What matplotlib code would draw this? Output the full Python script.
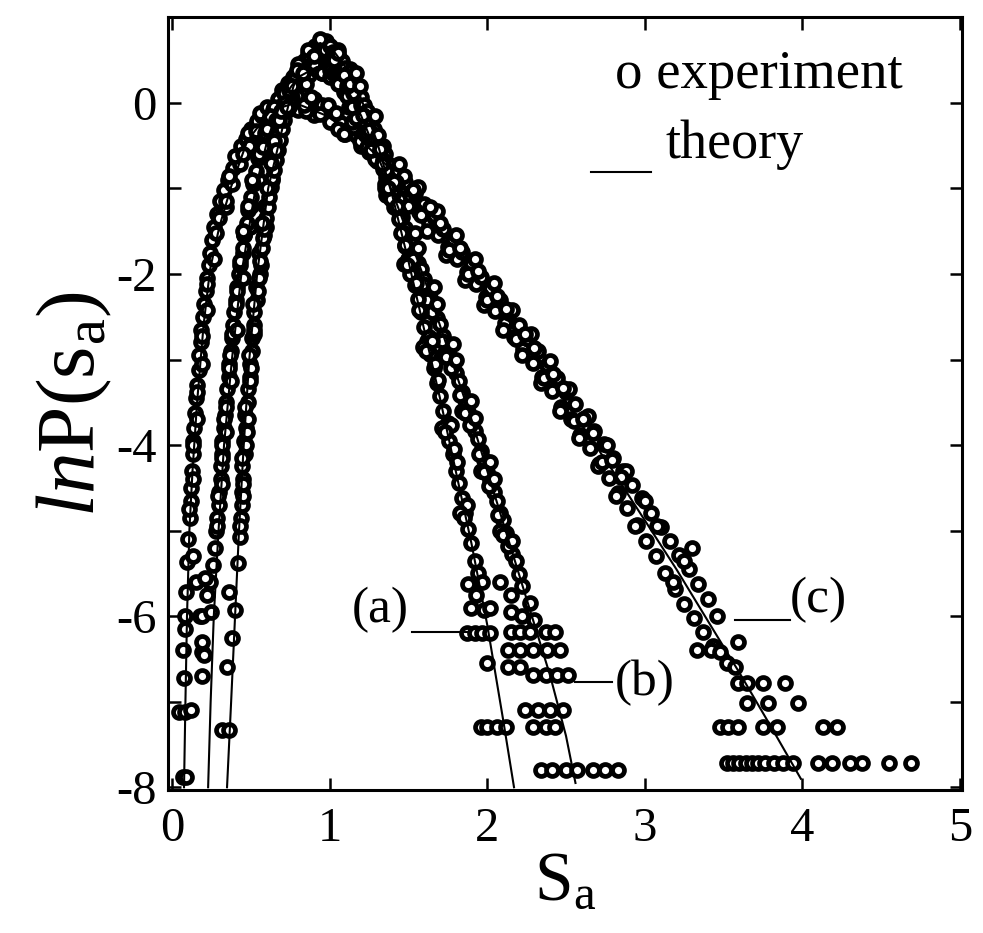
import matplotlib
matplotlib.use("Agg")
import matplotlib.pyplot as plt
from matplotlib.ticker import FixedLocator, FuncFormatter

plt.rcParams["font.family"] = ["Liberation Serif", "DejaVu Serif"]
plt.rcParams["mathtext.fontset"] = "custom"
plt.rcParams["mathtext.rm"] = "Liberation Serif"
plt.rcParams["mathtext.it"] = "Liberation Serif:italic"

# ---------------- theory curves, ln P(s_a) ----------------
theory_a_s = [0.349, 0.375, 0.40, 0.425, 0.455, 0.49, 0.54, 0.61, 0.70, 0.77, 0.85, 0.94,
              1.02, 1.10, 1.20, 1.30, 1.40, 1.50, 1.60, 1.70, 1.80, 1.90, 2.00, 2.10, 2.17]
theory_a_y = [-8.0, -7.0, -6.0, -5.0, -4.0, -3.0, -2.0, -1.0, -0.3, 0.19, 0.56, 0.70,
              0.62, 0.42, 0.05, -0.45, -1.10, -1.85, -2.65, -3.45, -4.30, -5.15, -6.10, -7.20, -8.0]

theory_b_s = [0.229, 0.245, 0.265, 0.295, 0.33, 0.38, 0.44, 0.53, 0.61, 0.70, 0.80, 0.92,
              1.00, 1.10, 1.20, 1.30, 1.40, 1.50, 1.60, 1.70, 1.80, 1.90, 2.00, 2.10, 2.20,
              2.30, 2.40, 2.50, 2.56]
theory_b_y = [-8.0, -7.0, -6.0, -5.0, -4.0, -3.0, -2.0, -1.0, -0.4, 0.05, 0.30, 0.42,
              0.38, 0.20, -0.15, -0.60, -1.05, -1.55, -2.05, -2.60, -3.15, -3.70, -4.30, -4.90, -5.50,
              -6.10, -6.70, -7.40, -7.95]

theory_c_s = [0.076, 0.085, 0.095, 0.11, 0.13, 0.159, 0.20, 0.241, 0.30, 0.375, 0.476, 0.62,
              0.78, 0.98, 1.19, 1.40, 1.60, 2.00, 2.40, 2.80, 3.20, 3.60, 3.80, 3.99]
theory_c_y = [-8.0, -7.0, -6.0, -5.0, -4.3, -3.5, -2.6, -1.95, -1.45, -0.98, -0.45, -0.10,
              0.0, -0.15, -0.42, -0.80, -1.25, -2.20, -3.22, -4.31, -5.45, -6.66, -7.29, -7.90]

# ---------------- experiment, series (a) ----------------
exp_a_s = [0.36, 0.35, 0.38, 0.40, 0.36, 0.42, 0.43,
           0.438, 0.446, 0.441, 0.45, 0.447, 0.462, 0.457, 0.472, 0.466, 0.483, 0.481, 0.495, 0.492,
           0.508, 0.505, 0.522, 0.519, 0.538, 0.535, 0.556,
           0.452, 0.47, 0.48, 0.50, 0.52, 0.545, 0.562, 0.585,
           0.432, 0.45, 0.443, 0.474, 0.466, 0.496, 0.487, 0.521, 0.515, 0.553, 0.55, 0.595, 0.59,
           0.636, 0.645,
           0.556, 0.572, 0.58, 0.585, 0.598, 0.606, 0.618, 0.628, 0.636, 0.648, 0.657, 0.672, 0.683,
           0.70, 0.712, 0.726, 0.742, 0.758, 0.776, 0.795, 0.817, 0.836, 0.862, 0.886, 0.91, 0.93,
           0.95, 0.972,
           0.57, 0.60, 0.625, 0.65, 0.68, 0.71, 0.74, 0.78, 0.82, 0.87, 0.92, 0.97,
           0.80, 0.88, 0.98, 1.06,
           0.66, 0.69, 0.73, 0.76, 0.79, 0.83, 0.86, 0.90, 0.94, 0.97, 1.01, 1.05, 1.08, 1.13,
           1.00, 1.02, 1.04, 1.06, 1.08, 1.10, 1.12, 1.14, 1.16, 1.18, 1.20, 1.22, 1.24, 1.26, 1.28,
           1.30, 1.32, 1.34, 1.36, 1.38, 1.40, 1.42, 1.44, 1.46, 1.48, 1.50, 1.52, 1.54, 1.56, 1.58,
           1.60, 1.62, 1.64, 1.66, 1.68, 1.70, 1.72, 1.74, 1.76, 1.78, 1.80, 1.82, 1.84, 1.86, 1.88,
           1.90,
           1.03, 1.09, 1.15, 1.21, 1.27, 1.33, 1.39, 1.45, 1.51, 1.57, 1.63, 1.69, 1.75, 1.81, 1.87,
           1.05, 1.11, 1.17, 1.23, 1.29, 1.35, 1.41, 1.47, 1.53, 1.59, 1.65, 1.71, 1.77, 1.83,
           1.13, 1.19, 1.25, 1.31, 1.37, 1.43, 1.49, 1.55, 1.61, 1.67, 1.73, 1.79, 1.85,
           1.92, 1.94, 1.88, 1.93, 1.97, 1.90, 1.98, 2.02, 1.87, 1.92, 1.97, 2.02, 2.00,
           1.96, 2.00, 2.06, 2.12]
exp_a_y = [-7.33, -6.60, -6.25, -5.93, -5.72, -5.38, -5.08,
           -4.85, -4.70, -4.55, -4.40, -4.25, -4.10, -3.95, -3.80, -3.65, -3.50, -3.35, -3.20, -3.05,
           -2.90, -2.75, -2.60, -2.45, -2.30, -2.15, -2.00,
           -4.60, -4.00, -3.70, -3.10, -2.70, -2.20, -1.90, -1.55,
           -4.95, -4.45, -4.15, -3.85, -3.55, -3.25, -2.95, -2.65, -2.35, -2.05, -1.75, -1.45, -1.20,
           -0.90, -0.60,
           -1.85, -1.70, -1.58, -1.48, -1.35, -1.22, -1.10, -0.98, -0.88, -0.78, -0.67, -0.55, -0.44,
           -0.31, -0.20, -0.09, 0.02, 0.12, 0.22, 0.31, 0.41, 0.49, 0.57, 0.62, 0.66, 0.69,
           0.70, 0.69,
           -1.40, -1.00, -0.70, -0.45, -0.20, 0.00, 0.15, 0.32, 0.45, 0.55, 0.60, 0.60,
           0.45, 0.62, 0.72, 0.52,
           -0.55, -0.10, -0.05, 0.20, 0.38, 0.35, 0.62, 0.55, 0.75, 0.62, 0.52, 0.62, 0.40, 0.40,
           0.66, 0.60, 0.60, 0.52, 0.49, 0.41, 0.36, 0.29, 0.21, 0.15, 0.07, -0.03, -0.10, -0.21, -0.31,
           -0.43, -0.54, -0.67, -0.79, -0.93, -1.07, -1.21, -1.36, -1.51, -1.66, -1.83, -1.97, -2.13, -2.29, -2.44,
           -2.62, -2.78, -2.94, -3.10, -3.28, -3.43, -3.60, -3.78, -3.95, -4.10, -4.30, -4.44, -4.62, -4.80, -4.98,
           -5.14,
           0.50, 0.32, 0.12, -0.14, -0.40, -0.72, -1.12, -1.52, -2.00, -2.42, -2.74, -3.24, -3.74, -4.20, -4.70,
           0.58, 0.20, 0.35, -0.35, -0.15, -1.00, -0.92, -1.88, -1.82, -2.85, -2.78, -3.80, -3.76, -4.80,
           0.22, 0.20, -0.32, -0.38, -1.00, -1.20, -1.90, -2.10, -2.90, -3.05, -3.85, -4.05, -4.85,
           -5.35, -5.50, -5.62, -5.75, -5.60, -5.90, -5.93, -5.90, -6.20, -6.20, -6.20, -6.20, -6.55,
           -7.30, -7.30, -7.30, -7.30]

# ---------------- experiment, series (b) ----------------
exp_b_s = [0.32, 0.19, 0.20, 0.19, 0.19, 0.25, 0.22, 0.24, 0.26, 0.27, 0.28, 0.21,
           0.288, 0.297, 0.298, 0.309, 0.31, 0.32, 0.32, 0.332, 0.333, 0.344, 0.348, 0.359, 0.363,
           0.374, 0.378, 0.39, 0.394, 0.407, 0.413, 0.427,
           0.294, 0.315, 0.33, 0.36, 0.383, 0.413, 0.432, 0.455,
           0.285, 0.317, 0.314, 0.345, 0.34, 0.377, 0.371, 0.41, 0.405, 0.448, 0.448, 0.497, 0.498,
           0.552, 0.57,
           0.433, 0.449, 0.458, 0.474, 0.483, 0.502, 0.513, 0.534, 0.548, 0.572, 0.588, 0.617, 0.638,
           0.672, 0.698, 0.737, 0.768, 0.812, 0.848, 0.89, 0.93, 0.97,
           0.45, 0.48, 0.51, 0.55, 0.60, 0.65, 0.72, 0.79, 0.87, 0.95,
           0.75, 0.84, 0.92, 1.00, 1.08,
           0.58, 0.62, 0.66, 0.71, 0.75, 0.80, 0.85, 0.90, 0.95, 1.00, 1.04, 1.09, 1.13, 1.18,
           1.00, 1.02, 1.04, 1.06, 1.08, 1.10, 1.12, 1.14, 1.16, 1.18, 1.20, 1.22, 1.24, 1.26, 1.28,
           1.30, 1.32, 1.34, 1.36, 1.38, 1.40, 1.42, 1.44, 1.46, 1.48, 1.50, 1.52, 1.54, 1.56, 1.58,
           1.60, 1.62, 1.64, 1.66, 1.68, 1.70, 1.72, 1.74, 1.76, 1.78, 1.80, 1.82, 1.84, 1.86, 1.88,
           1.90, 1.92, 1.94, 1.96, 1.98, 2.00, 2.02, 2.04, 2.06, 2.08, 2.10, 2.12, 2.14, 2.16, 2.18,
           2.20,
           1.05, 1.11, 1.17, 1.23, 1.29, 1.35, 1.41, 1.47, 1.53, 1.59, 1.65, 1.71, 1.77, 1.83, 1.89,
           1.95, 2.01, 2.07, 2.13,
           1.06, 1.12, 1.18, 1.24, 1.30, 1.36, 1.42, 1.48, 1.54, 1.60, 1.66, 1.72, 1.78, 1.84, 1.90,
           1.96, 2.02, 2.08,
           1.14, 1.20, 1.26, 1.32, 1.38, 1.44, 1.50, 1.56, 1.62, 1.68, 1.74, 1.80, 1.86, 1.92, 1.98,
           2.04, 2.10, 2.16,
           2.08, 2.15, 2.22, 2.15, 2.22, 2.27, 2.30,
           2.15, 2.21, 2.27, 2.37, 2.43,
           2.13, 2.21, 2.29, 2.38, 2.46,
           2.13, 2.21,
           2.29, 2.37, 2.44, 2.51,
           2.24, 2.32, 2.40, 2.48,
           2.29, 2.37, 2.43,
           2.34, 2.41, 2.50, 2.57, 2.67, 2.75, 2.83]
exp_b_y = [-7.33, -6.70, -6.45, -6.30, -6.00, -5.95, -5.75, -5.60, -5.40, -5.20, -5.00, -5.55,
           -4.85, -4.70, -4.55, -4.40, -4.25, -4.10, -3.95, -3.80, -3.65, -3.50, -3.35, -3.20, -3.05,
           -2.90, -2.75, -2.60, -2.45, -2.30, -2.15, -2.00,
           -4.60, -4.00, -3.70, -3.10, -2.70, -2.20, -1.90, -1.55,
           -4.95, -4.45, -4.15, -3.85, -3.55, -3.25, -2.95, -2.65, -2.35, -2.05, -1.75, -1.45, -1.20,
           -0.90, -0.60,
           -1.85, -1.70, -1.55, -1.40, -1.25, -1.10, -0.95, -0.80, -0.65, -0.50, -0.35, -0.20, -0.08,
           0.05, 0.15, 0.23, 0.30, 0.36, 0.40, 0.42, 0.43, 0.41,
           -1.50, -1.20, -0.90, -0.60, -0.30, -0.05, 0.10, 0.25, 0.33, 0.35,
           0.20, 0.38, 0.38, 0.42, 0.25,
           -0.52, -0.15, -0.20, 0.12, 0.05, 0.25, 0.22, 0.45, 0.35, 0.30, 0.40, 0.13, 0.18, -0.12,
           0.38, 0.35, 0.31, 0.29, 0.23, 0.21, 0.13, 0.09, -0.01, -0.05, -0.16, -0.21, -0.33, -0.40, -0.51,
           -0.58, -0.69, -0.77, -0.87, -0.94, -1.06, -1.13, -1.27, -1.34, -1.46, -1.54, -1.65, -1.74, -1.87, -1.94,
           -2.06, -2.15, -2.28, -2.36, -2.51, -2.59, -2.73, -2.81, -2.95, -3.03, -3.16, -3.25, -3.38, -3.47, -3.61,
           -3.69, -3.83, -3.93, -4.07, -4.17, -4.31, -4.41, -4.55, -4.65, -4.79, -4.88, -5.03, -5.12, -5.27, -5.36,
           -5.51,
           0.22, 0.08, -0.18, -0.38, -0.66, -0.95, -1.22, -1.52, -1.82, -2.12, -2.45, -2.78, -3.10, -3.42, -3.76,
           -4.10, -4.48, -4.82, -5.18,
           0.40, -0.05, 0.10, -0.52, -0.40, -1.08, -0.92, -1.67, -1.52, -2.28, -2.15, -2.95, -2.82, -3.60, -3.48,
           -4.30, -4.20, -5.00,
           -0.05, -0.02, -0.55, -0.56, -1.10, -1.12, -1.70, -1.70, -2.30, -2.35, -2.97, -3.00, -3.62, -3.68, -4.32,
           -4.40, -5.05, -5.12,
           -5.60, -5.75, -5.65, -5.95, -6.00, -5.85, -6.05,
           -6.19, -6.19, -6.19, -6.19, -6.19,
           -6.40, -6.40, -6.40, -6.40, -6.40,
           -6.60, -6.60,
           -6.69, -6.69, -6.69, -6.69,
           -7.10, -7.10, -7.10, -7.10,
           -7.30, -7.30, -7.30,
           -7.80, -7.80, -7.80, -7.80, -7.80, -7.80, -7.80]

# ---------------- experiment, series (c) ----------------
exp_c_s = [0.07, 0.09, 0.045, 0.08, 0.12, 0.075, 0.07, 0.085, 0.082, 0.09, 0.15, 0.095, 0.10, 0.13,
           0.19, 0.18,
           0.113, 0.118, 0.123, 0.124, 0.131, 0.134, 0.142, 0.146, 0.153, 0.157, 0.168, 0.171, 0.182,
           0.186, 0.197, 0.20, 0.213, 0.219, 0.232, 0.24, 0.256, 0.266, 0.286, 0.303,
           0.108, 0.134, 0.132, 0.16, 0.156, 0.187, 0.187, 0.222, 0.222, 0.265, 0.278, 0.342,
           0.33, 0.358, 0.385, 0.41, 0.44, 0.47, 0.50, 0.54, 0.58, 0.62, 0.67, 0.72, 0.77, 0.82, 0.86,
           0.92, 0.97, 1.02, 1.07, 1.12, 1.17, 1.22, 1.27, 1.32, 1.37,
           0.30, 0.34, 0.38, 0.43, 0.49, 0.55, 0.62, 0.70, 0.80, 0.90, 1.00, 1.10, 1.20, 1.30,
           0.52, 0.57, 0.63, 0.68, 0.74, 0.79, 0.85, 0.90, 0.95, 1.05, 1.15, 1.25, 1.35,
           0.36, 0.40, 0.45, 0.48, 0.53, 0.56, 0.60, 0.65, 0.69, 0.73, 0.76, 0.84, 0.88, 0.94, 0.99,
           1.04, 1.09, 1.14, 1.19, 1.24, 1.29, 1.34, 1.39,
           1.42, 1.45, 1.48, 1.51, 1.54, 1.57, 1.60, 1.63, 1.66, 1.69, 1.72, 1.75, 1.78, 1.81, 1.84,
           1.87, 1.90, 1.93, 1.96, 1.99, 2.02, 2.05, 2.08, 2.11, 2.14, 2.17, 2.20, 2.23, 2.26, 2.29,
           2.32, 2.35, 2.38, 2.41, 2.44, 2.47, 2.50, 2.53, 2.56, 2.59, 2.62, 2.65, 2.68, 2.71, 2.74,
           2.77, 2.80, 2.83, 2.86, 2.89, 2.92, 2.95, 2.98, 3.01, 3.04, 3.07, 3.10, 3.13, 3.16, 3.19,
           3.22, 3.25, 3.28, 3.31, 3.34, 3.37, 3.40, 3.43, 3.46,
           1.44, 1.50, 1.56, 1.62, 1.68, 1.74, 1.80, 1.86, 1.92, 1.98, 2.04, 2.10, 2.16, 2.22, 2.28,
           2.34, 2.40, 2.46, 2.52, 2.58, 2.64, 2.70, 2.76, 2.82, 2.88, 2.94, 3.00,
           1.43, 1.47, 1.53, 1.58, 1.64, 1.70, 1.76, 1.83, 1.88, 1.94, 2.00, 2.06, 2.12, 2.18, 2.24,
           2.30, 2.36, 2.42, 2.48, 2.55, 2.61, 2.67, 2.73, 2.79, 2.85,
           3.08, 3.25, 3.30, 3.18,
           3.59, 3.33, 3.42, 3.48, 3.52, 3.57,
           3.59, 3.65, 3.75, 3.89,
           3.65, 3.78, 3.97,
           3.48, 3.53, 3.59, 3.75, 3.84, 4.13, 4.22,
           3.52, 3.56, 3.60, 3.64, 3.68, 3.72, 3.76, 3.82, 3.88, 3.94, 4.10, 4.19, 4.30, 4.38, 4.55, 4.69]
exp_c_y = [-7.88, -7.88, -7.12, -7.12, -7.10, -6.72, -6.40, -6.15, -6.00, -5.72, -5.60, -5.37, -5.10, -5.30,
           -6.42, -6.00,
           -4.85, -4.65, -4.50, -4.30, -4.10, -3.95, -3.80, -3.62, -3.45, -3.30, -3.12, -2.95, -2.80,
           -2.65, -2.50, -2.35, -2.20, -2.05, -1.90, -1.75, -1.60, -1.45, -1.30, -1.15,
           -4.75, -4.40, -4.00, -3.70, -3.38, -3.05, -2.72, -2.42, -2.12, -1.82, -1.52, -1.22,
           -1.02, -0.90, -0.76, -0.64, -0.51, -0.42, -0.30, -0.21, -0.12, -0.07, -0.02, 0.01, 0.02, 0.00, -0.04,
           -0.07, -0.12, -0.18, -0.23, -0.31, -0.37, -0.47, -0.54, -0.64, -0.72,
           -1.35, -1.15, -0.95, -0.72, -0.50, -0.35, -0.20, -0.10, -0.08, -0.14, -0.22, -0.36, -0.50, -0.68,
           -0.38, -0.15, -0.18, 0.05, -0.05, 0.08, -0.10, 0.05, -0.03, -0.30, -0.28, -0.58, -0.60,
           -0.85, -0.62, -0.60, -0.35, -0.33, -0.12, -0.05, -0.12, 0.06, -0.08, 0.06, -0.02, 0.07, -0.13, -0.02,
           -0.12, -0.36, -0.22, -0.45, -0.33, -0.62, -0.50, -0.86,
           -0.78, -0.98, -0.92, -1.12, -1.05, -1.27, -1.18, -1.40, -1.33, -1.55, -1.47, -1.69, -1.60, -1.83, -1.74,
           -1.98, -1.88, -2.12, -2.03, -2.27, -2.17, -2.43, -2.31, -2.57, -2.46, -2.74, -2.60, -2.88, -2.76, -3.04,
           -2.90, -3.21, -3.07, -3.37, -3.22, -3.55, -3.38, -3.70, -3.52, -3.88, -3.68, -4.04, -3.83, -4.22, -3.99,
           -4.38, -4.15, -4.56, -4.30, -4.74, -4.47, -4.93, -4.62, -5.12, -4.80, -5.30, -4.96, -5.50, -5.12, -5.68,
           -5.28, -5.86, -5.45, -6.02, -5.62, -6.18, -5.80, -6.35, -6.00,
           -0.72, -1.20, -0.98, -1.50, -1.26, -1.78, -1.55, -2.07, -1.82, -2.36, -2.10, -2.66, -2.42, -2.95, -2.70,
           -3.27, -3.02, -3.60, -3.34, -3.92, -3.66, -4.25, -4.00, -4.60, -4.30, -4.95, -4.65,
           -0.95, -0.86, -1.02, -1.31, -1.22, -1.40, -1.72, -1.70, -2.00, -1.96, -2.31, -2.26, -2.41, -2.76, -2.70,
           -2.86, -3.22, -3.17, -3.33, -3.72, -3.70, -3.86, -4.20, -4.18, -4.37,
           -4.95, -5.35, -5.20, -5.60,
           -6.30, -6.40, -6.40, -6.42, -6.55, -6.60,
           -6.78, -6.78, -6.78, -6.78,
           -7.02, -7.02, -7.02,
           -7.30, -7.30, -7.30, -7.30, -7.30, -7.30, -7.30,
           -7.72, -7.72, -7.72, -7.72, -7.72, -7.72, -7.72, -7.72, -7.72, -7.72, -7.72, -7.72, -7.72, -7.72, -7.72, -7.72]

x_ticks = [0, 1, 2, 3, 4, 5]
y_ticks = [1, 0, -1, -2, -3, -4, -5, -6, -7, -8]
y_labelled = [0, -2, -4, -6, -8]

curve_tags = ["(a)", "(b)", "(c)"]

fig = plt.figure(figsize=(9.83, 9.33), dpi=100)
ax = fig.add_axes([0.171, 0.153, 0.808, 0.829])

marker_kw = dict(linestyle="none", marker="o", markersize=8.6, markerfacecolor="white",
                 markeredgecolor="black", markeredgewidth=3.4, zorder=2)
for xs, ys in [(exp_c_s, exp_c_y), (exp_b_s, exp_b_y), (exp_a_s, exp_a_y)]:
    ax.plot(xs, ys, **marker_kw)

for xs, ys in [(theory_a_s, theory_a_y), (theory_b_s, theory_b_y), (theory_c_s, theory_c_y)]:
    ax.plot(xs, ys, color="black", linewidth=1.5, zorder=3)

ax.set_xlim(-0.025, 5.015)
ax.set_ylim(-8.035, 1.006)

ax.xaxis.set_major_locator(FixedLocator(x_ticks))
ax.yaxis.set_major_locator(FixedLocator(y_ticks))
ax.yaxis.set_major_formatter(FuncFormatter(lambda v, p: f"{int(round(v))}" if int(round(v)) in y_labelled else ""))
ax.xaxis.set_major_formatter(FuncFormatter(lambda v, p: f"{int(round(v))}"))
ax.tick_params(direction="in", length=9, width=1.8, top=True, right=True,
               labelsize=35, pad=8)
ax.tick_params(axis="x", pad=12)
for sp in ax.spines.values():
    sp.set_linewidth(2.2)

ax.set_xlabel(r"$\mathrm{S_a}$", fontsize=50, labelpad=0)
ax.set_ylabel(r"$\mathit{ln}\mathrm{P(s_a)}$", fontsize=60, labelpad=2)

# legend drawn as text
ax.text(2.81, 0.33, "o experiment", fontsize=39.5, va="center", ha="left", zorder=5)
ax.text(3.13, -0.49, "theory", fontsize=39, va="center", ha="left", zorder=5)
ax.plot([2.66, 3.04], [-0.81, -0.81], color="black", linewidth=1.5, zorder=5)

# curve tags with leader lines
tag_pos = [(1.14, -5.93), (2.81, -6.78), (3.92, -5.81)]
tag_lines = [([1.52, 1.89], [-6.19, -6.19]), ([2.56, 2.79], [-6.77, -6.77]), ([3.57, 3.92], [-6.05, -6.05])]
for tag, (tx, ty), (lx, ly) in zip(curve_tags, tag_pos, tag_lines):
    ax.text(tx, ty, tag, fontsize=37, va="center", ha="left", zorder=5)
    ax.plot(lx, ly, color="black", linewidth=1.5, zorder=5)

fig.savefig("out.png", dpi=100)
